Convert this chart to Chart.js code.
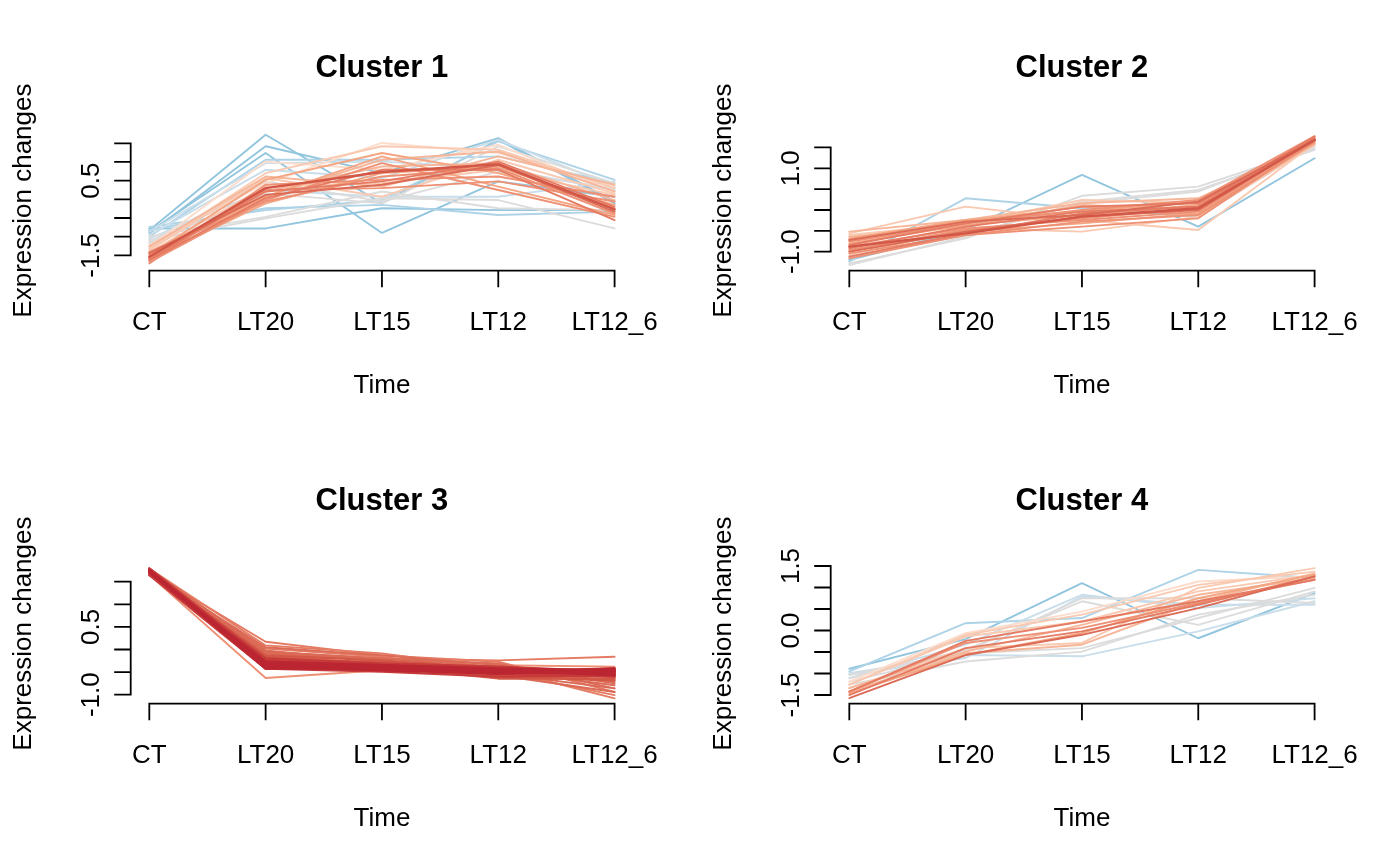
<!DOCTYPE html>
<html><head><meta charset="utf-8">
<script src="https://cdn.jsdelivr.net/npm/chart.js@4.4.0/dist/chart.umd.min.js"></script>
<style>
html,body{margin:0;padding:0;background:#fff;}
#wrap{position:relative;width:1400px;height:866px;background:#fff;}
.panel{position:absolute;width:700px;height:433px;}
.panel canvas{display:block;}
</style></head><body>
<div id="wrap">
<div class="panel" style="left:0;top:0"><canvas id="c1" width="700" height="433"></canvas></div>
<div class="panel" style="left:700px;top:0"><canvas id="c2" width="700" height="433"></canvas></div>
<div class="panel" style="left:0;top:433px"><canvas id="c3" width="700" height="433"></canvas></div>
<div class="panel" style="left:700px;top:433px"><canvas id="c4" width="700" height="433"></canvas></div>
</div>
<script>
// ---------------- DATA ----------------
const timePoints = ['CT', 'LT20', 'LT15', 'LT12', 'LT12_6'];
const clusterTitles = ['Cluster 1', 'Cluster 2', 'Cluster 3', 'Cluster 4'];
const xAxisTitle = 'Time';
const yAxisTitle = 'Expression changes';

// Cluster 1: standardised expression profiles (CT, LT20, LT15, LT12, LT12_6)
const cluster1Profiles = [
  [-0.87, 1.24, -0.90, 0.48, 0.07],
  [-0.78, -0.78, -0.24, -0.29, -0.29],
  [-0.83, 1.73, -0.11, 1.60, -0.11],
  [-0.91, 1.42, 0.70, 1.64, -0.06],
  [-0.83, -0.24, -0.15, -0.42, -0.33],
  [-1.00, 1.06, 1.06, 1.15, 0.43],
  [-0.96, 0.79, 0.57, 1.60, 0.34],
  [-1.05, 0.25, 0.07, 0.07, 0.48],
  [-0.74, -0.29, -0.02, 1.55, 0.52],
  [-0.87, 0.97, 1.01, 0.83, 0.25],
  [-1.09, -0.51, 0.03, -0.02, -0.78],
  [-1.18, 0.16, -0.11, 1.42, 0.43],
  [-1.14, 0.48, -0.06, 0.74, 0.30],
  [-1.00, -0.47, 0.21, -0.24, -0.29],
  [-1.23, 0.43, 1.51, 1.24, 0.34],
  [-1.27, 1.01, 0.79, 1.46, 0.21],
  [-1.32, 0.70, 1.42, 1.33, 0.30],
  [-1.36, 0.57, 0.07, 1.06, 0.16],
  [-1.41, 0.34, 0.43, 0.79, 0.12],
  [-1.45, 0.21, 0.88, 0.97, -0.02],
  [-1.26, 0.61, 0.34, 1.15, 0.39],
  [-1.50, 0.07, 1.06, 1.28, 0.21],
  [-1.50, 0.52, 1.24, 0.70, -0.15],
  [-1.54, 0.07, 1.15, 0.34, -0.42],
  [-1.59, -0.11, 0.70, 0.88, -0.24],
  [-1.63, 0.25, 0.30, 0.48, -0.06],
  [-1.68, -0.02, 0.97, 0.25, -0.47],
  [-1.72, 0.39, 0.52, 0.61, 0.07],
  [-1.41, -0.06, 0.61, 0.83, -0.38],
  [-1.63, 0.03, 0.79, 0.79, -0.56],
  [-1.59, 0.21, 0.48, 1.01, -0.20],
  [-1.45, 0.12, 0.39, 0.92, -0.33],
  [-1.54, 0.30, 0.73, 0.94, -0.27]
];
const cluster1Membership = [0.32, 0.33, 0.34, 0.34, 0.38, 0.38, 0.42, 0.43, 0.37, 0.41, 0.46, 0.47, 0.48, 0.46, 0.50,
  0.53, 0.56, 0.57, 0.59, 0.61, 0.60, 0.62, 0.66, 0.68, 0.69, 0.71, 0.72, 0.73, 0.74, 0.77, 0.79, 0.81, 0.87];

// Cluster 2
const cluster2Profiles = [
  [-1.20, -0.48, 0.84, -0.40, 1.24],
  [-1.24, 0.28, 0.04, -0.16, 1.56],
  [-1.28, -0.68, 0.34, 0.56, 1.48],
  [-1.32, -0.64, 0.20, 0.48, 1.44],
  [-1.12, -0.60, 0.16, 0.44, 1.52],
  [-0.56, 0.08, -0.24, -0.48, 1.60],
  [-0.60, -0.32, 0.24, 0.16, 1.64],
  [-1.08, -0.44, -0.52, -0.16, 1.56],
  [-0.52, -0.24, 0.16, 0.28, 1.58],
  [-0.64, -0.40, 0.12, 0.00, 1.68],
  [-0.68, -0.24, -0.04, 0.20, 1.72],
  [-0.72, -0.28, 0.08, -0.12, 1.60],
  [-1.00, -0.52, -0.32, -0.08, 1.64],
  [-0.80, -0.36, -0.12, 0.12, 1.76],
  [-1.16, -0.60, -0.28, -0.12, 1.64],
  [-1.04, -0.60, -0.40, -0.20, 1.68],
  [-0.96, -0.48, -0.20, 0.04, 1.72],
  [-0.76, -0.32, 0.00, 0.24, 1.77],
  [-0.88, -0.44, -0.24, -0.04, 1.69],
  [-1.12, -0.56, -0.08, 0.08, 1.66],
  [-0.84, -0.32, 0.08, 0.16, 1.72],
  [-0.92, -0.40, -0.04, 0.08, 1.76],
  [-1.00, -0.52, -0.16, 0.00, 1.69],
  [-0.72, -0.28, -0.12, 0.20, 1.68],
  [-0.88, -0.56, -0.16, 0.04, 1.68]
];
const cluster2Membership = [0.33, 0.38, 0.46, 0.47, 0.48, 0.56, 0.58, 0.57, 0.61, 0.63, 0.65, 0.66, 0.68, 0.69,
  0.70, 0.71, 0.72, 0.73, 0.74, 0.75, 0.77, 0.78, 0.80, 0.81, 0.87];

// Cluster 3
const cluster3Profiles = [
  [1.65, -0.63, -0.46, -0.35, -0.38],
  [1.71, 0.17, -0.13, -0.27, -0.94],
  [1.75, -0.05, -0.20, -0.24, -0.16],
  [1.79, 0.09, -0.09, -0.42, -1.08],
  [1.71, 0.02, -0.16, -0.49, -1.01],
  [1.65, -0.09, -0.24, -0.57, -0.94],
  [1.75, -0.02, -0.27, -0.53, -0.86],
  [1.71, -0.13, -0.31, -0.46, -0.79],
  [1.79, -0.05, -0.20, -0.38, -0.75],
  [1.69, 0.05, -0.13, -0.35, -0.72],
  [1.77, -0.09, -0.20, -0.31, -0.86],
  [1.65, -0.16, -0.35, -0.60, -0.68],
  [1.71, -0.20, -0.38, -0.64, -0.64],
  [1.75, -0.24, -0.27, -0.49, -0.60],
  [1.71, -0.13, -0.24, -0.42, -0.57],
  [1.65, -0.31, -0.42, -0.57, -0.53],
  [1.79, -0.27, -0.35, -0.46, -0.49],
  [1.71, -0.42, -0.38, -0.53, -0.46],
  [1.75, -0.35, -0.46, -0.49, -0.42],
  [1.71, -0.20, -0.31, -0.38, -0.49],
  [1.65, -0.42, -0.49, -0.60, -0.57],
  [1.79, -0.24, -0.38, -0.53, -0.60],
  [1.71, -0.27, -0.42, -0.46, -0.53],
  [1.75, -0.31, -0.35, -0.42, -0.46],
  [1.71, -0.38, -0.46, -0.53, -0.42],
  [1.75, -0.42, -0.42, -0.49, -0.49],
  [1.71, -0.35, -0.38, -0.46, -0.57],
  [1.75, -0.31, -0.42, -0.53, -0.46],
  [1.71, -0.27, -0.35, -0.49, -0.53]
];
const cluster3Membership = [0.74, 0.76, 0.75, 0.78, 0.79, 0.80, 0.81, 0.82, 0.83, 0.80, 0.84, 0.85, 0.86, 0.87,
  0.88, 0.89, 0.90, 0.91, 0.92, 0.92, 0.93, 0.93, 0.94, 0.95, 0.95, 0.96, 0.97, 0.97, 0.98];

// Cluster 4
const cluster4Profiles = [
  [-0.89, -0.20, 1.10, -0.18, 0.87],
  [-0.95, 0.17, 0.29, 1.41, 1.22],
  [-0.99, -0.57, -0.60, -0.02, 0.68],
  [-1.03, -0.64, 0.79, 0.60, 0.60],
  [-1.03, -0.49, 0.75, 0.75, 0.64],
  [-1.11, -0.33, 0.83, 0.52, 0.75],
  [-1.19, -0.53, -0.41, 0.29, 0.99],
  [-1.11, -0.45, 0.68, 0.13, 0.91],
  [-1.26, -0.72, -0.49, 0.37, 0.83],
  [-1.19, -0.06, 0.44, 1.14, 1.26],
  [-1.26, -0.10, 0.37, 1.06, 1.37],
  [-1.34, -0.41, -0.29, 0.99, 1.45],
  [-1.26, -0.14, 0.21, 0.91, 1.30],
  [-1.42, -0.53, -0.33, 0.68, 1.33],
  [-1.34, -0.49, 0.13, 0.83, 1.22],
  [-1.46, -0.57, -0.06, 0.75, 1.30],
  [-1.42, -0.29, 0.06, 0.64, 1.18],
  [-1.50, -0.41, -0.02, 0.60, 1.26],
  [-1.42, -0.24, 0.21, 0.68, 1.18],
  [-1.57, -0.57, -0.10, 0.52, 1.26]
];
const cluster4Membership = [0.33, 0.37, 0.40, 0.42, 0.45, 0.44, 0.46, 0.48, 0.49, 0.53, 0.55, 0.57, 0.59, 0.62,
  0.64, 0.67, 0.70, 0.75, 0.79, 0.81];

// Axis limits and ticks
const xRange = [0.84, 5.16];
const cluster1YRange = [-1.912, 1.843];
const cluster2YRange = [-1.456, 1.906];
const cluster3YRange = [-1.199, 1.902];
const cluster4YRange = [-1.702, 1.558];
const cluster1YTicks = [-1.5, -1.0, -0.5, 0.0, 0.5, 1.0, 1.5];
const cluster2YTicks = [-1.0, -0.5, 0.0, 0.5, 1.0, 1.5];
const cluster3YTicks = [-1.0, -0.5, 0.0, 0.5, 1.0, 1.5];
const cluster4YTicks = [-1.5, -1.0, -0.5, 0.0, 0.5, 1.0, 1.5];
const cluster1YLabelValues = [-1.5, 0.5];
const cluster2YLabelValues = [-1.0, 1.0];
const cluster3YLabelValues = [-1.0, 0.5];
const cluster4YLabelValues = [-1.5, 0.0, 1.5];

// ---------------- STYLE ----------------
const membershipPalette = ['#92C5DE', '#AED3E7', '#C9DEEA', '#DCDCDC', '#FCDCCB', '#F9C9B1', '#F6B699',
  '#F4A582', '#EE9074', '#E57B63', '#DB6B56', '#D35746', '#C63A3A', '#BB2632'];
function colourFor(m) {
  let i = Math.floor((m - 0.30) / 0.05 + 1e-9);
  return membershipPalette[Math.max(0, Math.min(membershipPalette.length - 1, i))];
}
const FONT = 'Arimo, "Liberation Sans", Arial, Helvetica, sans-serif';

const rAxes = {
  id: 'rAxes',
  afterDraw(chart, args, opts) {
    const ctx = chart.ctx, xs = chart.scales.x, ys = chart.scales.y, a = chart.chartArea;
    ctx.save();
    ctx.strokeStyle = '#000';
    ctx.fillStyle = '#000';
    ctx.lineWidth = 1.8;
    ctx.lineCap = 'square';
    // x axis
    const xt = opts.xTicks;
    const yb = a.bottom;
    ctx.beginPath();
    ctx.moveTo(xs.getPixelForValue(xt[0]), yb);
    ctx.lineTo(xs.getPixelForValue(xt[xt.length - 1]), yb);
    xt.forEach(v => { const p = xs.getPixelForValue(v); ctx.moveTo(p, yb); ctx.lineTo(p, yb + 15.6); });
    // y axis
    const yt = opts.yTicks;
    const xl = a.left;
    ctx.moveTo(xl, ys.getPixelForValue(yt[0]));
    ctx.lineTo(xl, ys.getPixelForValue(yt[yt.length - 1]));
    yt.forEach(v => { const p = ys.getPixelForValue(v); ctx.moveTo(xl, p); ctx.lineTo(xl - 15.6, p); });
    ctx.stroke();
    // x tick labels
    ctx.font = '26px ' + FONT;
    ctx.textAlign = 'center';
    ctx.textBaseline = 'alphabetic';
    xt.forEach((v, i) => ctx.fillText(opts.xLabels[i], xs.getPixelForValue(v), yb + 59));
    // y tick labels (rotated, parallel to axis)
    opts.yLabelValues.forEach(v => {
      ctx.save();
      ctx.translate(xl - 31.5, ys.getPixelForValue(v));
      ctx.rotate(-Math.PI / 2);
      ctx.fillText(v.toFixed(1), 0, 0);
      ctx.restore();
    });
    // axis titles
    ctx.fillText(opts.xTitle, (a.left + a.right) / 2, yb + 122);
    ctx.save();
    ctx.translate(xl - 100, (a.top + a.bottom) / 2);
    ctx.rotate(-Math.PI / 2);
    ctx.fillText(opts.yTitle, 0, 0);
    ctx.restore();
    // main title
    ctx.font = 'bold 31px ' + FONT;
    ctx.fillText(opts.title, (a.left + a.right) / 2, a.top - 54);
    ctx.restore();
  }
};

function makeChart(id, profiles, membership, yRange, yTicks, yLabelValues, title) {
  const datasets = profiles.map((vals, k) => ({
    data: vals.map((v, i) => ({ x: i + 1, y: v })),
    borderColor: colourFor(membership[k]),
    borderWidth: membership[k] >= 0.85 ? 2.4 : 1.9,
    pointRadius: 0,
    fill: false,
    tension: 0,
    order: Math.round((1 - membership[k]) * 1000)
  }));
  return new Chart(document.getElementById(id), {
    type: 'line',
    data: { datasets },
    options: {
      responsive: false,
      animation: false,
      devicePixelRatio: 1,
      layout: { padding: { left: 130.7, right: 66.8, top: 130.5, bottom: 162.3 } },
      plugins: {
        legend: { display: false },
        tooltip: { enabled: false },
        rAxes: { xTicks: [1, 2, 3, 4, 5], xLabels: timePoints, yTicks, yLabelValues,
          title, xTitle: xAxisTitle, yTitle: yAxisTitle }
      },
      scales: {
        x: { type: 'linear', min: xRange[0], max: xRange[1], display: false },
        y: { type: 'linear', min: yRange[0], max: yRange[1], display: false }
      },
      elements: { line: { borderJoinStyle: 'round', borderCapStyle: 'round' } }
    },
    plugins: [rAxes]
  });
}

makeChart('c1', cluster1Profiles, cluster1Membership, cluster1YRange, cluster1YTicks, cluster1YLabelValues, clusterTitles[0]);
makeChart('c2', cluster2Profiles, cluster2Membership, cluster2YRange, cluster2YTicks, cluster2YLabelValues, clusterTitles[1]);
makeChart('c3', cluster3Profiles, cluster3Membership, cluster3YRange, cluster3YTicks, cluster3YLabelValues, clusterTitles[2]);
makeChart('c4', cluster4Profiles, cluster4Membership, cluster4YRange, cluster4YTicks, cluster4YLabelValues, clusterTitles[3]);
</script>
</body></html>
